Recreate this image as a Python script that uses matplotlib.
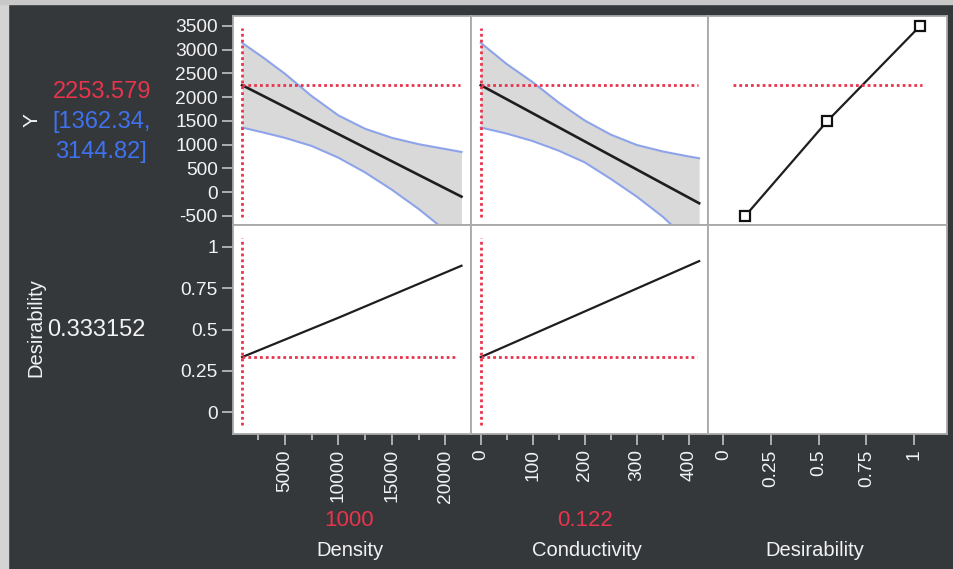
import matplotlib.pyplot as plt
from matplotlib.patches import Rectangle

y_current = 2253.579
y_ci = [1362.34, 3144.82]
desir_current = 0.333152
density_current = 1000
cond_current = 0.122

# Density profile (Y and its confidence band)
dens_x = [1000, 3000, 5000, 7500, 10000, 12500, 15000, 17500, 20000, 21500]
dens_upper = [3144.82, 2830, 2494, 2024, 1617, 1335, 1145, 1011, 909, 848]
dens_lower = [1362.34, 1256, 1145, 974, 727, 416, 52, -353, -807, -1107]
dens_pred_x = [1000, 21500]
dens_pred = [2253.579, -93]

# Conductivity profile
cond_x = [0.122, 50, 100, 150, 200, 250, 300, 350, 400, 420]
cond_upper = [3144.82, 2699, 2317, 1887, 1510, 1213, 995, 858, 753, 715]
cond_lower = [1362.34, 1235, 1077, 875, 629, 281, -92, -515, -1031, -1200]
cond_pred_x = [0.122, 420]
cond_pred = [2253.579, -232]

# Desirability traces
dens_d_x = [1000, 10000, 21500]
dens_d = [0.333152, 0.571, 0.885]
cond_d_x = [0.122, 200, 420]
cond_d = [0.333152, 0.609, 0.913]

# Desirability function (Y vs desirability)
desir_pts = [0.115, 0.546, 1.032]
y_pts = [-500, 1500, 3500]

# ---- style ----
W, H = 954, 569
BG = '#35383b'
RED = '#e8344c'
BLUE_TXT = '#3f72ee'
BAND_EDGE = '#8ea4ea'
BAND = '#d9d9d9'
GRID = '#a9a9a9'
TXT = '#f2f2f2'
plt.rcParams['font.family'] = ['Liberation Sans', 'DejaVu Sans']
plt.rcParams['axes.unicode_minus'] = False

fig = plt.figure(figsize=(W / 100, H / 100), dpi=100, facecolor=BG)
# light frame on the top and left edge of the screenshot
fig.patches.append(Rectangle((0, 0), 8 / W, 1, transform=fig.transFigure,
                             color='#d4d4d4', zorder=-10))
fig.patches.append(Rectangle((0, 1 - 4 / H), 1, 4 / H, transform=fig.transFigure,
                             color='#c8c8c8', zorder=-10))


def pos(x0, y0, x1, y1):
    return [x0 / W, 1 - y1 / H, (x1 - x0) / W, (y1 - y0) / H]


cols = [(233, 471), (471, 708), (708, 947)]
rows = [(16, 225), (225, 434)]
xlims = [(150, 22390), (-18.6, 437), (-0.08, 1.173)]
ylims = [(-690, 3710), (-0.131, 1.131)]

axes = [[None] * 3 for _ in range(2)]
for r, (y0, y1) in enumerate(rows):
    for c, (x0, x1) in enumerate(cols):
        ax = fig.add_axes(pos(x0, y0, x1, y1))
        ax.set_facecolor('white')
        ax.set_xlim(*xlims[c])
        ax.set_ylim(*ylims[r])
        for s in ax.spines.values():
            s.set_color(GRID)
            s.set_linewidth(1.3)
        ax.tick_params(colors='#b8b8b8', labelcolor=TXT, labelsize=13.8,
                       length=8, width=1.3, pad=3)
        ax.tick_params(which='minor', colors='#b8b8b8', length=4.5, width=1.3)
        if c != 0:
            ax.tick_params(axis='y', which='both', left=False, labelleft=False)
        if r != 1:
            ax.tick_params(axis='x', which='both', bottom=False, labelbottom=False)
        axes[r][c] = ax

dot = dict(color=RED, lw=2.0, dashes=(1, 1.1), zorder=4)

# top row: Y profiles
for ax, xs, up, lo, px_, pr, cur in [
        (axes[0][0], dens_x, dens_upper, dens_lower, dens_pred_x, dens_pred, density_current),
        (axes[0][1], cond_x, cond_upper, cond_lower, cond_pred_x, cond_pred, cond_current)]:
    ax.fill_between(xs, lo, up, color=BAND, lw=0, zorder=1)
    ax.plot(xs, up, color=BAND_EDGE, lw=1.5, zorder=2)
    ax.plot(xs, lo, color=BAND_EDGE, lw=1.5, zorder=2)
    ax.plot(px_, pr, color='#1e1e1e', lw=1.9, zorder=3)
    ax.plot([cur, cur], [-520, 3450], **dot)
    ax.plot([cur, xs[-1] * 0.993], [y_current, y_current], **dot)

axes[0][2].plot(desir_pts, y_pts, color='#1e1e1e', lw=1.6, marker='s',
                ms=6.5, mfc='white', mec='#111111', mew=1.6, zorder=3)
axes[0][2].plot([0.05, 1.04], [y_current, y_current], **dot)

# bottom row: desirability traces
for ax, xs, ds, cur, xend in [(axes[1][0], dens_d_x, dens_d, density_current, 21000),
                              (axes[1][1], cond_d_x, cond_d, cond_current, 415)]:
    ax.plot(xs, ds, color='#1e1e1e', lw=1.6, zorder=3)
    ax.plot([cur, cur], [-0.077, 1.05], **dot)
    ax.plot([cur, xend], [desir_current, desir_current], **dot)

# ticks
axes[0][0].set_yticks(range(-500, 3501, 500))
axes[1][0].set_yticks([0, 0.25, 0.5, 0.75, 1])
axes[1][0].set_yticklabels(['0', '0.25', '0.5', '0.75', '1'])
axes[1][0].set_xticks([5000, 10000, 15000, 20000])
axes[1][0].set_xticks([2500, 7500, 12500, 17500], minor=True)
axes[1][1].set_xticks([0, 100, 200, 300, 400])
axes[1][1].set_xticks([50, 150, 250, 350], minor=True)
axes[1][2].set_xticks([0, 0.25, 0.5, 0.75, 1])
axes[1][2].set_xticklabels(['0', '0.25', '0.5', '0.75', '1'])
for c in range(3):
    axes[1][c].tick_params(axis='x', labelrotation=90)


def ftext(x, y, s, **kw):
    fig.text(x / W, 1 - y / H, s, ha='center', va='center', **kw)


ftext(32, 120, 'Y', color=TXT, fontsize=15, rotation=90)
ftext(102, 92, f'{y_current:.3f}', color=RED, fontsize=17)
ftext(102, 122, f'[{y_ci[0]:.2f},', color=BLUE_TXT, fontsize=17)
ftext(101, 152, f'{y_ci[1]:.2f}]', color=BLUE_TXT, fontsize=17)
ftext(36, 328, 'Desirability', color=TXT, fontsize=14.5, rotation=90)
ftext(96, 330, f'{desir_current:.6f}', color=TXT, fontsize=17)

ftext(349, 520, f'{density_current}', color=RED, fontsize=16)
ftext(350, 550, 'Density', color=TXT, fontsize=14.5)
ftext(585, 520, f'{cond_current}', color=RED, fontsize=16)
ftext(587, 550, 'Conductivity', color=TXT, fontsize=14.5)
ftext(815, 551, 'Desirability', color=TXT, fontsize=14.5)

fig.savefig('out.png', dpi=100, facecolor=fig.get_facecolor())
